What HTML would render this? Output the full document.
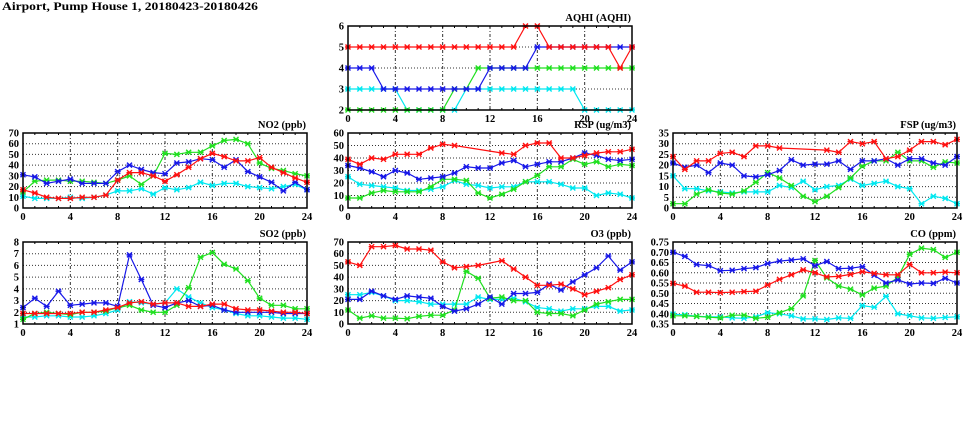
<!DOCTYPE html>
<html><head><meta charset="utf-8"><style>
html,body{margin:0;padding:0;background:#fff;}
svg{display:block;font-family:"Liberation Serif",serif;}
</style></head><body>
<svg id="chart" width="975" height="447" viewBox="0 0 975 447">
<text x="2" y="10" font-size="11.5" font-weight="bold" textLength="256" lengthAdjust="spacingAndGlyphs">Airport, Pump House 1, 20180423-20180426</text>
</svg>
<script>
const hours = [0,1,2,3,4,5,6,7,8,9,10,11,12,13,14,15,16,17,18,19,20,21,22,23,24];
const xTicks = [0,4,8,12,16,20,24];
const seriesNames = ['cyan','green','blue','red'];
const seriesColors = ['#00e8f0','#20e020','#1818e8','#ff1010'];

const aqhiTicks = [2,3,4,5,6];
const aqhiCyan  = [3,3,3,3,3,2,2,2,2,2,3,3,3,3,3,3,3,3,3,3,2,2,2,2,2];
const aqhiGreen = [2,2,2,2,2,2,2,2,2,3,3,4,4,4,4,4,4,4,4,4,4,4,4,4,4];
const aqhiBlue  = [4,4,4,3,3,3,3,3,3,3,3,3,4,4,4,4,5,5,5,5,5,5,5,5,5];
const aqhiRed   = [5,5,5,5,5,5,5,5,5,5,5,5,5,5,5,6,6,5,5,5,5,5,5,4,5];

const no2Ticks = [0,10,20,30,40,50,60,70];
const no2Cyan  = [11,9,9,9,10,9,10,12,16,16,18,13,19,17,19,24,21,23,23,20,19,18,20,22,17];
const no2Green = [15,25,26,26,25,25,24,23,26,30,22,30,51,50,52,52,58,63,64,60,42,37,35,32,30];
const no2Blue  = [31,29,23,25,27,23,23,23,34,40,36,33,32,42,43,46,45,38,45,34,29,24,16,24,17];
const no2Red   = [17,14,10,9,9,10,10,12,26,33,33,30,25,31,38,46,51,48,44,44,47,38,33,28,24];

const rspTicks = [0,10,20,30,40,50,60];
const rspCyan  = [25,19,18,17,16,14,14,15,17,22,19,18,16,17,17,21,21,21,19,16,16,10,12,11,8];
const rspGreen = [8,8,12,14,13,13,13,17,23,23,22,12,8,11,15,21,26,33,33,39,35,37,33,35,34];
const rspBlue  = [34,32,29,25,30,28,23,24,25,28,33,32,32,36,38,33,35,37,37,40,44,42,39,38,39];
const rspRed   = [39,35,40,39,43,43,43,48,51,50,null,null,null,44,43,50,52,52,40,40,42,44,45,45,47];

const fspTicks = [0,5,10,15,20,25,30,35];
const fspCyan  = [15,9,9,8,7.5,7,7.5,7.5,7.5,10.5,9.5,12.5,8.5,10,10.5,13.5,10.5,11.5,12.5,10,9,2,5.5,4.5,2];
const fspGreen = [2,2,6.5,8.5,7,6.5,8,12,16.5,14,10.5,5.5,3,5.5,9.5,14,19.5,22,22,26,22,22,19,21.5,21];
const fspBlue  = [21,19,20,16.5,21,20,15,14.5,15.5,17.5,22.5,20,20.5,20.5,22,18,22,22,23,20,23,23,21,20,24];
const fspRed   = [24,18,22,22,25.5,26,24,29,29,28,null,null,null,27,26,31,30,31,23,24,27,31,31,29.5,32];

const so2Ticks = [1,2,3,4,5,6,7,8];
const so2Cyan  = [1.6,1.6,1.7,1.7,1.6,1.6,1.7,1.9,2.2,2.9,2.8,2.7,2.8,4.0,3.3,2.8,2.4,2.2,1.9,1.7,1.7,1.6,1.5,1.5,1.4];
const so2Green = [1.4,1.9,2.0,1.9,1.8,2.0,2.0,2.1,2.4,2.6,2.2,2.0,2.0,2.6,4.1,6.7,7.1,6.1,5.7,4.7,3.2,2.6,2.6,2.3,2.3];
const so2Blue  = [2.4,3.2,2.5,3.8,2.6,2.7,2.8,2.8,2.5,6.9,4.8,2.6,2.4,2.8,3.0,2.5,2.6,2.2,2.0,2.0,2.0,2.0,1.9,1.9,1.9];
const so2Red   = [1.9,1.9,1.9,1.9,1.9,2.0,2.0,2.2,2.4,2.8,2.9,2.7,2.8,2.8,2.5,2.5,2.7,2.7,2.3,2.2,2.2,2.1,2.0,2.0,1.9];

const o3Ticks = [0,10,20,30,40,50,60,70];
const o3Cyan  = [25,25,27,24,20,20,19,17,17,17,17,23,21,21,22,19,14,13,11,13,13,15,15,11,12];
const o3Green = [12,5,7,5,5,4.5,6.5,7.5,7.5,12,45,39,22,23,20,20,10,9,9,7,12,17,19,21,21];
const o3Blue  = [21,21,28,24,21,24,23,22,15,11,13,17,23,17,26,26,27,34,29,36,42,48,58,46,53];
const o3Red   = [53,50,66,66,67,64,64,63,53,48,49,50,null,54,47,40,33,33,34,30,25,28,31,38,42];

const coTicks = [0.35,0.40,0.45,0.50,0.55,0.60,0.65,0.70,0.75];
const coCyan  = [0.398,0.395,0.388,0.385,0.385,0.38,0.378,0.385,0.405,0.40,0.39,0.375,0.375,0.372,0.38,0.378,0.44,0.432,0.485,0.40,0.39,0.38,0.378,0.382,0.385];
const coGreen = [0.39,0.39,0.387,0.383,0.38,0.393,0.393,0.378,0.383,0.405,0.425,0.487,0.66,0.575,0.535,0.52,0.492,0.525,0.535,0.578,0.69,0.72,0.713,0.675,0.70];
const coBlue  = [0.70,0.68,0.64,0.635,0.61,0.612,0.62,0.625,0.645,0.657,0.662,0.668,0.635,0.655,0.62,0.622,0.63,0.588,0.55,0.565,0.545,0.55,0.548,0.573,0.55];
const coRed   = [0.548,0.535,0.505,0.505,0.503,0.505,0.508,0.51,0.54,0.568,0.59,0.614,0.60,0.58,0.582,0.592,0.605,0.597,0.59,0.59,0.64,0.60,0.60,0.603,0.60];

const panels = [
 {name:'aqhi', title:'AQHI (AQHI)', x0:348, x1:632, y0:26, y1:110, ticks:aqhiTicks, dec:0, data:[aqhiCyan,aqhiGreen,aqhiBlue,aqhiRed]},
 {name:'no2', title:'NO2 (ppb)', x0:23, x1:307, y0:133, y1:208, ticks:no2Ticks, dec:0, data:[no2Cyan,no2Green,no2Blue,no2Red]},
 {name:'rsp', title:'RSP (ug/m3)', x0:348, x1:632, y0:133, y1:208, ticks:rspTicks, dec:0, data:[rspCyan,rspGreen,rspBlue,rspRed]},
 {name:'fsp', title:'FSP (ug/m3)', x0:673, x1:957, y0:133, y1:208, ticks:fspTicks, dec:0, data:[fspCyan,fspGreen,fspBlue,fspRed]},
 {name:'so2', title:'SO2 (ppb)', x0:23, x1:307, y0:242, y1:324, ticks:so2Ticks, dec:0, data:[so2Cyan,so2Green,so2Blue,so2Red]},
 {name:'o3', title:'O3 (ppb)', x0:348, x1:632, y0:242, y1:324, ticks:o3Ticks, dec:0, data:[o3Cyan,o3Green,o3Blue,o3Red]},
 {name:'co', title:'CO (ppm)', x0:673, x1:957, y0:242, y1:324, ticks:coTicks, dec:2, data:[coCyan,coGreen,coBlue,coRed]}
];

const NS='http://www.w3.org/2000/svg';
const svg=document.getElementById('chart');
function mk(tag,attrs,parent){const e=document.createElementNS(NS,tag);for(const k in attrs)e.setAttribute(k,attrs[k]);parent.appendChild(e);return e;}

panels.forEach(p=>{
  const g=mk('g',{},svg);
  
  
  const lo=p.ticks[0], hi=p.ticks[p.ticks.length-1];
  const sx=h=>p.x0+(h-hours[0])/(hours[hours.length-1]-hours[0])*(p.x1-p.x0);
  const sy=v=>p.y1-(v-lo)/(hi-lo)*(p.y1-p.y0);
  p.ticks.forEach((t,i)=>{
    if(i>0&&i<p.ticks.length-1){
      const l=mk('line',{x1:p.x0,x2:p.x1,y1:sy(t),y2:sy(t),stroke:'#333','stroke-width':1,'stroke-dasharray':'1,2'},g);
      
      
    }
    const tx=mk('text',{x:p.x0-4,y:sy(t)+3.5,'font-size':10.5,'font-weight':'bold','text-anchor':'end'},g);
    tx.textContent=t.toFixed(p.dec);
    
    
  });
  xTicks.forEach((t,i)=>{
    if(i>0&&i<xTicks.length-1){
      const l=mk('line',{x1:sx(t),x2:sx(t),y1:p.y0,y2:p.y1,stroke:'#333','stroke-width':1,'stroke-dasharray':'3,2,1,2'},g);
      
      
    }
    const tx=mk('text',{x:sx(t),y:p.y1+12,'font-size':10.5,'font-weight':'bold','text-anchor':'middle'},g);
    tx.textContent=t;
    
    
  });
  hours.forEach(h=>{
    mk('line',{x1:sx(h),x2:sx(h),y1:p.y1,y2:p.y1-2,stroke:'#000','stroke-width':1},g);
    mk('line',{x1:sx(h),x2:sx(h),y1:p.y0,y2:p.y0+2,stroke:'#000','stroke-width':1},g);
  });
  p.data.forEach((arr,si)=>{
    const col=seriesColors[si];
    const sg=mk('g',{},g);
    
    
    let pts=[];
    arr.forEach((v,i)=>{ if(v!==null) pts.push(sx(hours[i]).toFixed(1)+','+sy(v).toFixed(1)); });
    const pl=mk('polyline',{points:pts.join(' '),fill:'none',stroke:col,'stroke-width':1.2},sg);
    
    
    arr.forEach((v,i)=>{
      if(v===null) return;
      const cx=sx(hours[i]), cy=sy(v);
      const m=mk('path',{d:`M${cx-2.5},${cy-2.5}L${cx+2.5},${cy+2.5}M${cx-2.5},${cy+2.5}L${cx+2.5},${cy-2.5}M${cx-3},${cy}L${cx+3},${cy}`,stroke:col,'stroke-width':1.4,fill:'none'},sg);
      
      
    });
  });
  const fr=mk('rect',{x:p.x0,y:p.y0,width:p.x1-p.x0,height:p.y1-p.y0,fill:'none',stroke:'#000','stroke-width':1.5},g);
  
  
  const tt=mk('text',{x:p.x1-1,y:p.y0-5,'font-size':10.5,'font-weight':'bold','text-anchor':'end'},g);
  tt.textContent=p.title;
  
  
});
</script>
</body></html>
